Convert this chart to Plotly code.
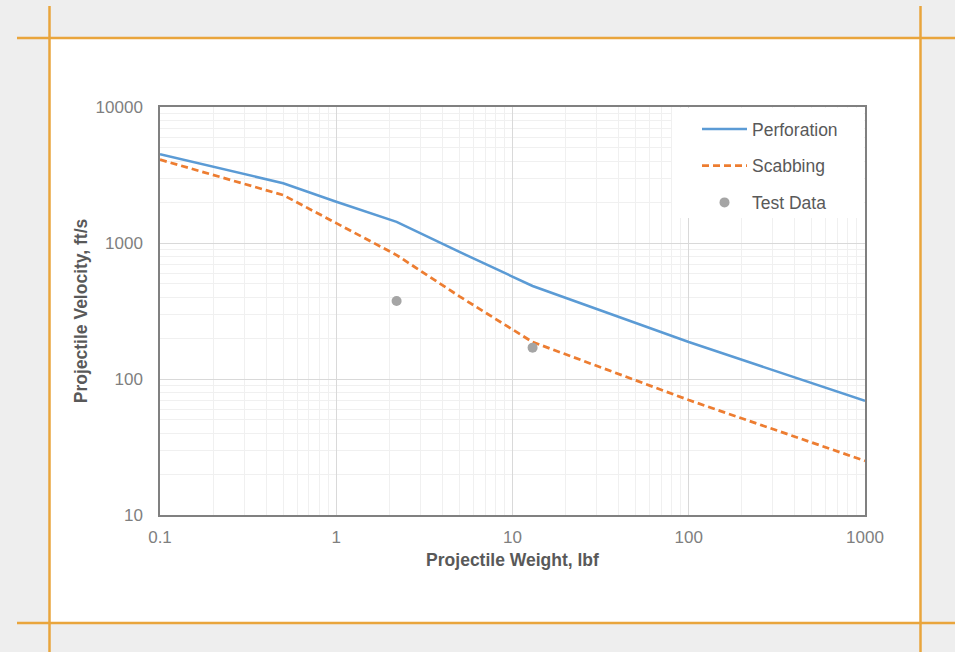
import plotly.graph_objects as go

# Data
perf_x = [0.1, 0.5, 1, 2.2, 5, 13, 100, 1000]
perf_y = [4500, 2750, 2010, 1430, 860, 483, 187, 69]
scab_x = [0.1, 0.5, 1, 2.2, 5, 13, 100, 1000]
scab_y = [4100, 2250, 1400, 815, 405, 187, 70, 25]
test_x = [2.2, 13]
test_y = [375, 170]

x_ticks = [0.1, 1, 10, 100, 1000]
x_tick_labels = ["0.1", "1", "10", "100", "1000"]
y_ticks = [10, 100, 1000, 10000]
y_tick_labels = ["10", "100", "1000", "10000"]

W, H = 955, 652
ML, MR, MT, MB = 160, 90, 107, 137
PW, PH = W - ML - MR, H - MT - MB

def px(x):
    return (x - ML) / PW

def py(y):
    return (H - MB - y) / PH

fig = go.Figure()
fig.add_trace(go.Scatter(x=perf_x, y=perf_y, mode="lines", name="Perforation",
                         line=dict(color="#5b9bd5", width=2.5), legendgroup="a"))
fig.add_trace(go.Scatter(x=scab_x, y=scab_y, mode="lines", name="Scabbing",
                         line=dict(color="#ed7d31", width=2.75, dash="7px,4px"), legendgroup="b"))
fig.add_trace(go.Scatter(x=test_x, y=test_y, mode="markers", name="Test Data",
                         marker=dict(color="#a5a5a5", size=10), legendgroup="c"))

orange = "#e9a53c"
shapes = [
    dict(type="rect", xref="paper", yref="paper", x0=px(50), x1=px(920), y0=py(623), y1=py(38),
         fillcolor="white", line=dict(width=0), layer="below"),
    dict(type="rect", xref="paper", yref="paper", x0=px(672), x1=px(864), y0=py(218), y1=py(108),
         fillcolor="white", line=dict(width=0), layer="above"),
    dict(type="line", xref="paper", yref="paper", x0=px(49.5), x1=px(49.5), y0=py(652), y1=py(6),
         line=dict(color=orange, width=2.5)),
    dict(type="line", xref="paper", yref="paper", x0=px(920.5), x1=px(920.5), y0=py(652), y1=py(6),
         line=dict(color=orange, width=2.5)),
    dict(type="line", xref="paper", yref="paper", x0=px(17), x1=px(955), y0=py(38), y1=py(38),
         line=dict(color=orange, width=2.5)),
    dict(type="line", xref="paper", yref="paper", x0=px(17), x1=px(955), y0=py(623), y1=py(623),
         line=dict(color=orange, width=2.5)),
]

axis_common = dict(
    type="log", showline=True, mirror=True, linecolor="#808080", linewidth=1.5,
    showgrid=True, gridcolor="#d9d9d9", gridwidth=1, zeroline=False,
    ticks="", tickfont=dict(size=17, color="#7f7f7f"),
    minor=dict(showgrid=True, gridcolor="#f0f0f0", gridwidth=1, dtick="D1"),
)

fig.update_layout(
    width=W, height=H,
    margin=dict(l=ML, r=MR, t=MT, b=MB, pad=0),
    paper_bgcolor="#eeeeee", plot_bgcolor="white",
    font=dict(family="Liberation Sans, Arial, sans-serif", color="#595959"),
    shapes=shapes,
    showlegend=True,
    legend=dict(x=px(697), y=py(111), xanchor="left", yanchor="top",
                bgcolor="rgba(0,0,0,0)", font=dict(size=17.5, color="#595959"),
                tracegroupgap=11, itemwidth=45),
    xaxis=dict(axis_common, range=[-1, 3], tickvals=x_ticks, ticktext=x_tick_labels,
               ticklabelstandoff=6,
               title=dict(text="<b>Projectile Weight, lbf</b>", font=dict(size=17.5, color="#595959"), standoff=8)),
    yaxis=dict(axis_common, range=[1, 4], tickvals=y_ticks, ticktext=y_tick_labels,
               ticklabelstandoff=12,
               title=dict(text="<b>Projectile Velocity, ft/s</b>", font=dict(size=17.5, color="#595959"), standoff=3)),
)

fig.write_html("out.html", config={"displayModeBar": False},
               post_script="document.body.style.margin='0';document.body.style.overflow='hidden';")
